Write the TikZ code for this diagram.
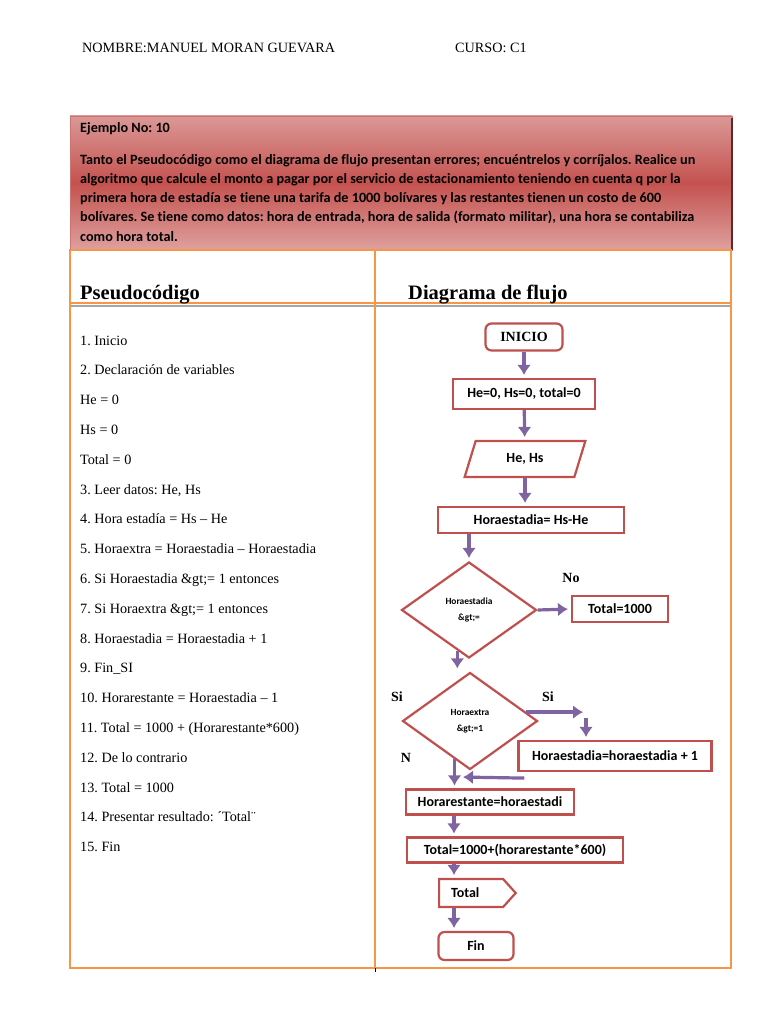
\documentclass[tikz,border=0pt]{standalone}
\usepackage{fontspec}
\setmainfont{Liberation Serif}
\newfontfamily\calibri[Ligatures=NoCommon]{Carlito}
\usetikzlibrary{arrows.meta,shapes.geometric,shapes.symbols}
\definecolor{rojo}{HTML}{C0504D}
\definecolor{rojoclaro}{HTML}{DB9896}
\definecolor{rojomedio}{HTML}{C4524F}
\definecolor{morado}{HTML}{8064A2}
\definecolor{naranja}{HTML}{F79646}
\frenchspacing

\begin{document}
\begin{tikzpicture}[x=1pt,y=-1pt,>=Latex,
  caja/.style={draw=rojo,line width=2.2pt,fill=white,inner sep=2pt,font=\calibri\bfseries\fontsize{14}{16}\selectfont},
  flecha/.style={draw=morado,line width=3.2pt,-{Latex[length=10pt,width=14pt]},shorten >=3pt},
  rotulo/.style={font=\bfseries\fontsize{14}{16}\selectfont},
  linea/.style={anchor=base west,inner sep=0pt,font=\fontsize{14.2}{16}\selectfont},
  enunciado/.style={anchor=base west,inner sep=0pt,font=\calibri\bfseries\fontsize{14.2}{16}\selectfont},
  rombo/.style={caja,diamond,minimum width=135pt,inner sep=0pt,align=center,font=\calibri\bfseries\fontsize{9.4}{16}\selectfont}]
\useasboundingbox (0,0) rectangle (768,1024);
\fill[white] (0,0) rectangle (768,1024);

\node[linea] (nombre) at (82,53) {NOMBRE:MANUEL MORAN GUEVARA};
\node[linea] (curso) at (455,53) {CURSO: C1};

% recuadro del enunciado
\shade[top color=rojoclaro,bottom color=rojoclaro!92!white,middle color=rojomedio] (70,116) rectangle (732,250);
\draw[rojo!80,line width=0.6pt] (70,116) rectangle (732,250);
\draw[rojo!50!black,line width=1.4pt] (732,118) -- (732,250);
\node[enunciado] (ejemplo) at (80,133) {Ejemplo No: 10};
\foreach \t [count=\i] in {Tanto el Pseudocódigo como el diagrama de flujo presentan errores; encuéntrelos y corríjalos. Realice un,
  algoritmo que calcule el monto a pagar por el servicio de estacionamiento teniendo en cuenta q por la,
  primera hora de estadía se tiene una tarifa de 1000 bolívares y las restantes tienen un costo de 600,
  {bolívares. Se tiene como datos: hora de entrada, hora de salida (formato militar), una hora se contabiliza},
  como hora total.}
  \node[enunciado] (e\i) at (80,{165+19*(\i-1)}) {\t};

% tabla
\draw[black!35,line width=1.5pt] (70,306) -- (731,306);
\draw[naranja,line width=2pt] (70,250) rectangle (731,968);
\draw[naranja,line width=2pt] (375,250) -- (375,968);
\draw[naranja,line width=2pt] (70,303) -- (731,303);
\draw[black,line width=0.8pt] (375,968) -- (375,972);
\node[linea,font=\bfseries\fontsize{20.5}{22}\selectfont] (hpseudo) at (80,299) {Pseudocódigo};
\node[linea,font=\bfseries\fontsize{20.5}{22}\selectfont] (hflujo) at (408,299) {Diagrama de flujo};

% pseudocodigo
\foreach \t [count=\i] in {1. Inicio, 2. Declaración de variables, He = 0, Hs = 0, Total = 0,
  {3. Leer datos: He, Hs}, 4. Hora estadía = Hs – He, 5. Horaextra = Horaestadia – Horaestadia,
  6. Si Horaestadia \&gt;= 1 entonces, 7. Si Horaextra \&gt;= 1 entonces,
  8. Horaestadia = Horaestadia + 1, 9. Fin\_SI, 10. Horarestante = Horaestadia – 1,
  11. Total = 1000 + (Horarestante*600), 12. De lo contrario, 13. Total = 1000,
  14. Presentar resultado: ´Total¨, 15. Fin}
  \node[linea] (p\i) at (80,{345+29.8*(\i-1)}) {\t};

% diagrama de flujo
\node[caja,rounded corners=6pt,minimum width=77pt,minimum height=27pt,font=\bfseries\fontsize{14}{16}\selectfont] (inicio) at (524,337) {INICIO};
\node[caja,minimum width=142pt,minimum height=30pt] (ceros) at (524,394) {He=0, Hs=0, total=0};
\node[caja,trapezium,trapezium left angle=73,trapezium right angle=107,minimum width=95pt,minimum height=36pt] (leer) at (525,459) {He, Hs};
\node[caja,minimum width=186pt,minimum height=26pt] (hest) at (531,520) {Horaestadia= Hs-He};
\node[rombo,minimum height=96pt] (cond1) at (469,610) {Horaestadia\\\&gt;=};
\node[caja,minimum width=96pt,minimum height=26pt] (mil) at (620,609) {Total=1000};
\node[rotulo] (no) at (571,578) {No};
\node[rombo,minimum height=97pt] (cond2) at (470,721) {Horaextra\\\&gt;=1};
\node[rotulo] (si1) at (397,697) {Si};
\node[rotulo] (si2) at (548,697) {Si};
\node[rotulo] (nn) at (406,758) {N};
\node[caja,minimum width=193pt,minimum height=30pt] (suma) at (615,756) {Horaestadia=horaestadia + 1};
\node[caja,minimum width=168pt,minimum height=25pt] (resta) at (490,802) {Horarestante=horaestadi};
\node[caja,minimum width=216pt,minimum height=25pt] (calc) at (515,850) {Total=1000+(horarestante*600)};
\node[caja,signal,signal to=east,signal pointer angle=96,anchor=west,text width=40pt,align=left,inner xsep=12pt,minimum height=28pt] (salida) at (438,893) {Total};
\node[caja,rounded corners=6pt,minimum width=75pt,minimum height=28pt] (fin) at (476,946) {Fin};

\coordinate (eje) at (454,0);
\coordinate (sder) at (586,712);
\coordinate (union) at (460,777);

\draw[flecha] (inicio) -- (ceros);
\draw[flecha] (ceros) -- (leer);
\draw[flecha] (leer.south) -- (leer.south |- hest.north);
\draw[flecha] (hest.south -| cond1.north) -- (cond1.north);
\draw[flecha] (cond1.east) -- (mil.west);
\draw[flecha] (cond1.-106) -- (cond1.-106 |- cond2.north);
\draw[flecha] (cond2.9) -- (cond2.9 -| sder);
\draw[flecha] ([yshift=-6pt]sder) -- (sder |- suma.north);
\draw[flecha] ([xshift=7pt,yshift=-6pt]suma.south west) -- (union);
\draw[flecha] (cond2.-112) -- (cond2.-112 |- resta.north);
\draw[flecha] (resta.south -| eje) -- (calc.north -| eje);
\draw[flecha] (calc.south -| eje) -- (salida.north -| eje);
\draw[flecha] (salida.south -| eje) -- (fin.north -| eje);
\end{tikzpicture}
\end{document}
